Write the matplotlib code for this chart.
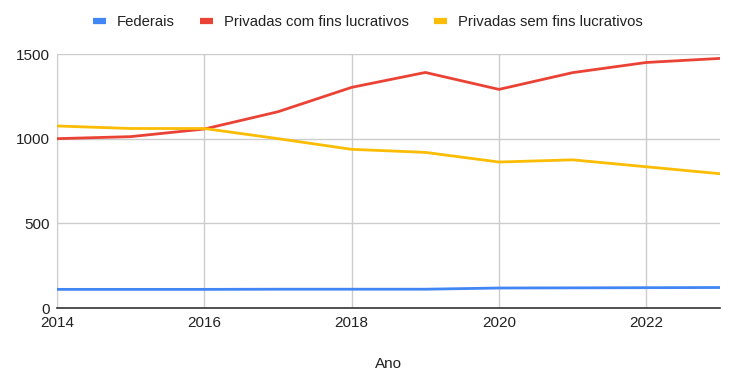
import matplotlib
matplotlib.use("Agg")
import matplotlib.pyplot as plt

plt.rcParams['font.family'] = ['Liberation Sans', 'DejaVu Sans']

years = [2014, 2015, 2016, 2017, 2018, 2019, 2020, 2021, 2022, 2023]
federais = [110, 110, 110, 111, 111, 111, 118, 119, 120, 121]
privadas_com = [1000, 1012, 1057, 1159, 1303, 1391, 1291, 1390, 1450, 1474]
privadas_sem = [1075, 1060, 1060, 1000, 937, 919, 862, 875, 834, 793]
series_names = ["Federais", "Privadas com fins lucrativos", "Privadas sem fins lucrativos"]
colors = ["#4285F4", "#EA4335", "#FBBC04"]
xticks = [2014, 2016, 2018, 2020, 2022]
yticks = [0, 500, 1000, 1500]

fig = plt.figure(figsize=(7.35, 3.84), dpi=100)
ax = fig.add_axes([57/735, 1-308/384, (720-57)/735, (308-54)/384])

for vals, name, c in zip([federais, privadas_com, privadas_sem], series_names, colors):
    ax.plot(years, vals, color=c, lw=2.0, label=name, solid_capstyle='round', zorder=3)

ax.set_xlim(2014, 2023)
ax.set_ylim(0, 1500)
ax.set_xticks(xticks)
ax.set_yticks(yticks)
ax.set_xticklabels([str(x) for x in xticks], fontsize=11, color="#222222")
ax.set_yticklabels([str(y) for y in yticks], fontsize=11, color="#222222")
ax.tick_params(axis='y', length=0, pad=5)
ax.tick_params(axis='x', length=0, pad=6)
ax.grid(True, color="#cccccc", lw=1)
for s in ["top", "right"]:
    ax.spines[s].set_visible(False)
ax.spines["left"].set_color("#cccccc")
ax.spines["bottom"].set_color("#333333")
ax.spines["bottom"].set_linewidth(1.2)
ax.spines["bottom"].set_zorder(4)

ax.set_xlabel("Ano", fontsize=11, color="#222222", labelpad=19)

leg = fig.legend(loc="center", bbox_to_anchor=(0.5, 1-22/384), ncol=3, frameon=False,
                 fontsize=10.75, handlelength=0.9, handletextpad=0.7, columnspacing=1.7)
for h in leg.legend_handles:
    h.set_linewidth(4.5)
    h.set_solid_capstyle('butt')
for t in leg.get_texts():
    t.set_color("#222222")

fig.savefig("out.png", dpi=100)
